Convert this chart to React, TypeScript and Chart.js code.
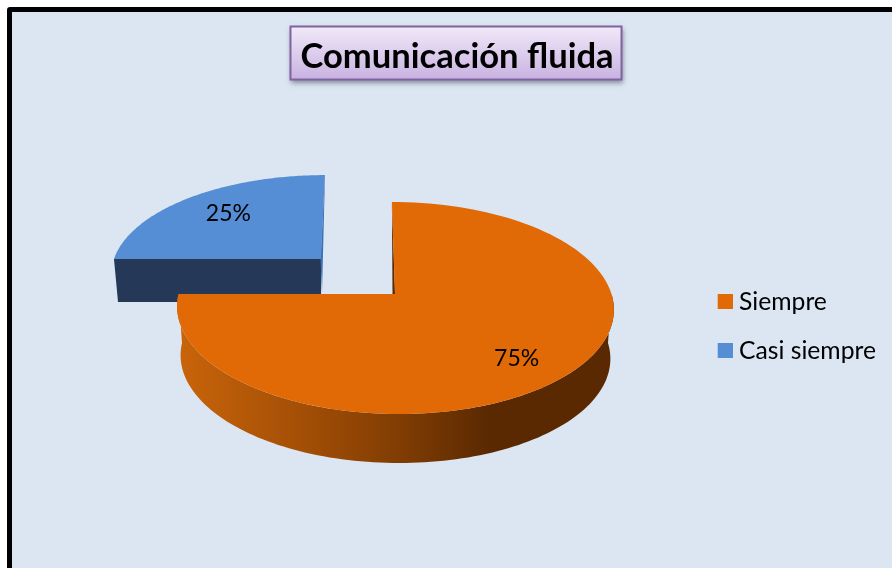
import React, { useEffect, useRef } from "react";
import { Chart, registerables } from "chart.js";

Chart.register(...registerables);

const categories = ["Siempre", "Casi siempre"];
const seriesValues = [75, 25];
const sliceColors = ["#E16A07", "#558ED5"];
const chartTitle = "Comunicación fluida";

type Proj = { x: number; y: number; a: number; b: number; k: number; s: number };

// perspective mapping of the (round) pie on to the tilted plane, per slice
const topPlanes: Proj[] = [
  { x: 395, y: 294, a: 216.5, b: 104.2, k: 0.132, s: 3.5 },
  { x: 321, y: 259, a: 207, b: 95, k: 0.132, s: -4.5 },
];
const basePlanes: Proj[] = [
  { x: 395, y: 343, a: 213, b: 104.2, k: 0.132, s: 3.5 },
  { x: 321, y: 302, a: 203, b: 95, k: 0.132, s: -4.5 },
];
const labelSpots = [
  { r: 0.74, dx: -2, dy: 6 },
  { r: 0.72, dx: 4, dy: 0 },
];

function project(p: Proj, angle: number, r = 1) {
  const u = Math.cos(angle) * r;
  const v = Math.sin(angle) * r;
  const w = 1 - p.k * v;
  return { x: p.x + (p.a * u + p.s * v) / w, y: p.y + (p.b * v) / w };
}

function rimPath(ctx: CanvasRenderingContext2D, p: Proj, from: number, to: number, first: boolean) {
  const n = 120;
  for (let i = 0; i <= n; i++) {
    const pt = project(p, from + ((to - from) * i) / n);
    if (i === 0 && first) ctx.moveTo(pt.x, pt.y);
    else ctx.lineTo(pt.x, pt.y);
  }
}

function swatch(color: string) {
  const c = document.createElement("canvas");
  c.width = 21;
  c.height = 15;
  const g = c.getContext("2d")!;
  g.fillStyle = color;
  g.fillRect(6, 0, 15, 15);
  return c;
}

const pie3d = {
  id: "pie3d",
  beforeDraw(chart: any) {
    // title box
    const ctx: CanvasRenderingContext2D = chart.ctx;
    ctx.save();
    ctx.shadowColor = "rgba(60,60,80,0.55)";
    ctx.shadowBlur = 5;
    ctx.shadowOffsetX = 1;
    ctx.shadowOffsetY = 3;
    const grad = ctx.createLinearGradient(0, 26, 0, 80);
    grad.addColorStop(0, "#F1EAF9");
    grad.addColorStop(1, "#C8B2E1");
    ctx.fillStyle = grad;
    ctx.fillRect(290, 26, 332, 54);
    ctx.shadowColor = "transparent";
    ctx.strokeStyle = "#8064A2";
    ctx.lineWidth = 2;
    ctx.strokeRect(290.5, 26.5, 331, 53);
    ctx.restore();
  },
  beforeDatasetsDraw(chart: any) {
    const ctx: CanvasRenderingContext2D = chart.ctx;
    const arcs = chart.getDatasetMeta(0).data;
    const total = seriesValues.reduce((a, b) => a + b, 0);
    const order = [1, 0];
    order.forEach((i) => {
      const arc = arcs[i];
      const top = topPlanes[i];
      const base = basePlanes[i];
      const start = arc.startAngle;
      const end = arc.endAngle;
      const color = sliceColors[i];

      // flat walls
      if (i === 1) {
        const a0 = project(top, start);
        const a1 = project(base, start);
        ctx.fillStyle = "#253858";
        ctx.beginPath();
        ctx.moveTo(a0.x, a0.y);
        ctx.lineTo(a1.x, a1.y);
        ctx.lineTo(base.x, base.y);
        ctx.lineTo(top.x, top.y);
        ctx.closePath();
        ctx.fill();
        const e0 = project(top, end);
        ctx.fillStyle = "#3E6FAF";
        ctx.beginPath();
        ctx.moveTo(e0.x, e0.y);
        ctx.lineTo(top.x + 1, base.y - 8);
        ctx.lineTo(top.x - 0.5, top.y);
        ctx.closePath();
        ctx.fill();
      } else {
        const e0 = project(top, start);
        ctx.fillStyle = "#5A2802";
        ctx.beginPath();
        ctx.moveTo(e0.x, e0.y);
        ctx.lineTo(top.x, top.y);
        ctx.lineTo(top.x - 2.5, top.y);
        ctx.closePath();
        ctx.fill();
      }

      // curved outer wall, the part that faces the viewer
      const from = Math.max(start, 0);
      const to = Math.min(end, Math.PI);
      if (to > from) {
        const g = ctx.createLinearGradient(180, 0, 610, 0);
        g.addColorStop(0, "#C8640A");
        g.addColorStop(0.28, "#A44F06");
        g.addColorStop(0.52, "#7F3C03");
        g.addColorStop(0.72, "#5A2902");
        g.addColorStop(1, "#5A2902");
        ctx.fillStyle = g;
        ctx.beginPath();
        rimPath(ctx, top, from, to, true);
        rimPath(ctx, base, to, from, false);
        ctx.closePath();
        ctx.fill();
      }

      // top face
      ctx.fillStyle = color;
      ctx.beginPath();
      ctx.moveTo(top.x, top.y);
      rimPath(ctx, top, start, end, false);
      ctx.closePath();
      ctx.fill();
    });

    // value labels
    ctx.save();
    ctx.fillStyle = "#000";
    ctx.font = "23px Lato";
    ctx.textAlign = "center";
    ctx.textBaseline = "middle";
    arcs.forEach((arc: any, i: number) => {
      const mid = (arc.startAngle + arc.endAngle) / 2;
      const spot = labelSpots[i];
      const pt = project(topPlanes[i], mid, spot.r);
      const pct = Math.round((seriesValues[i] / total) * 100) + "%";
      ctx.fillText(pct, pt.x + spot.dx, pt.y + spot.dy);
    });
    ctx.restore();
    return false;
  },
};

export default function App() {
  const ref = useRef<HTMLCanvasElement>(null);
  useEffect(() => {
    const swatches = sliceColors.map(swatch);
    const chart = new Chart(ref.current!, {
      type: "pie",
      data: {
        labels: categories,
        datasets: [{ data: seriesValues, backgroundColor: sliceColors, borderWidth: 0 }],
      },
      options: {
        responsive: false,
        animation: false,
        layout: { padding: { top: 36, right: 26, bottom: 50, left: 28 } },
        plugins: {
          tooltip: { enabled: false },
          title: {
            display: true,
            text: chartTitle,
            color: "#000",
            font: { family: "Lato", size: 34.6, weight: "bold" },
            padding: { top: 0, bottom: 57 },
          },
          legend: {
            position: "right",
            fullSize: false,
            labels: {
              color: "#000",
              font: { family: "Lato", size: 24.7 },
              padding: 24.5,
              usePointStyle: true,
              pointStyleWidth: 9,
              generateLabels: (c: any) =>
                categories.map((text, i) => ({
                  text,
                  fillStyle: sliceColors[i],
                  strokeStyle: sliceColors[i],
                  lineWidth: 0,
                  pointStyle: swatches[i],
                  hidden: false,
                  index: i,
                })),
            },
          },
        },
      } as any,
      plugins: [pie3d as any],
    });
    return () => chart.destroy();
  }, []);

  return (
    <div style={{ position: "fixed", left: 0, top: 0, width: 892, height: 568, overflow: "hidden", background: "#fff" }}>
      <div
        style={{
          position: "absolute",
          left: 7,
          top: 7,
          width: 920,
          height: 600,
          background: "#DCE6F2",
          border: "5px solid #000",
          borderRadius: 3,
        }}
      />
      <canvas ref={ref} width={912} height={568} style={{ position: "absolute", left: 0, top: 0, display: "block" }} />
    </div>
  );
}
